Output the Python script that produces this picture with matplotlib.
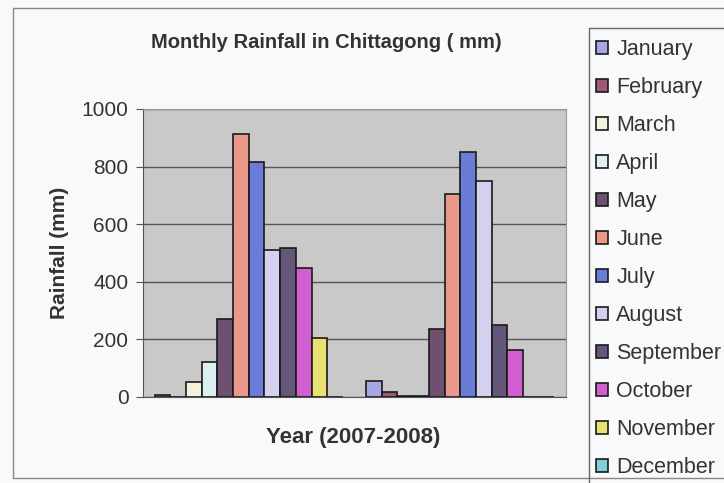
import numpy as np
import matplotlib
matplotlib.use("Agg")
import matplotlib.pyplot as plt
from matplotlib.patches import Rectangle

plt.rcParams['font.family'] = ['Liberation Sans', 'DejaVu Sans']

months = ["January", "February", "March", "April", "May", "June", "July",
          "August", "September", "October", "November", "December"]
years = ["2007", "2008"]
rain_2007 = [7, 0, 53, 123, 270, 913, 817, 509, 517, 447, 204, 0]
rain_2008 = [57, 19, 2, 2, 236, 704, 852, 751, 250, 163, 0, 0]
colors = ["#a9a6e8", "#a0587a", "#f4f2dc", "#dcf0f2", "#6e5070", "#e8998a",
          "#6a7bd8", "#d4d0f0", "#65577a", "#d060d0", "#e8e070", "#80d0d8"]

W, H = 724, 483
fig = plt.figure(figsize=(W / 100, H / 100), dpi=100)
fig.patch.set_facecolor("#f8f9fb")

def fx(px):
    return px / W

def fy(py):
    return 1 - py / H

# outer chart border and legend box
fig.patches.append(Rectangle((fx(13), fy(478)), fx(740) - fx(13), fy(8) - fy(478),
                             transform=fig.transFigure, fill=False,
                             edgecolor="#888888", linewidth=1.0, zorder=0))
fig.patches.append(Rectangle((fx(589), fy(495)), fx(760) - fx(589), fy(28) - fy(495),
                             transform=fig.transFigure, fill=False,
                             edgecolor="#666666", linewidth=1.0, zorder=0))

ax = fig.add_axes([fx(143), fy(397), fx(566) - fx(143), fy(109) - fy(397)])
ax.set_facecolor("#c9c9c9")

x = np.arange(len(years))
width = 0.0742
data = np.array([rain_2007, rain_2008])
for i, m in enumerate(months):
    edges = ["#1a1a1a" if v > 0 else "none" for v in data[:, i]]
    ax.bar(x + (i - 5.5) * width, data[:, i], width, color=colors[i],
           edgecolor=edges, linewidth=1.2, label=m, zorder=3)

ax.set_xlim(-0.5, 1.5)
ax.set_ylim(0, 1000)
ax.set_yticks(range(0, 1001, 200))
ax.set_xticks([])
ax.yaxis.grid(True, color="#555555", linewidth=1.0, zorder=1)
ax.tick_params(axis="y", labelsize=15, length=5, color="#555555", labelcolor="#333333", pad=5.5)
for s in ["top", "right"]:
    ax.spines[s].set_color("#999999")
for s in ["left", "bottom"]:
    ax.spines[s].set_color("#555555")

ax.set_ylabel("Rainfall (mm)", fontsize=15, fontweight="bold", color="#333333", labelpad=9)

fig.text(fx(326), fy(43), "Monthly Rainfall in Chittagong ( mm)", fontsize=14.5,
         fontweight="bold", color="#333333", ha="center", va="center")
fig.text(fx(353), fy(438), "Year (2007-2008)", fontsize=16,
         fontweight="bold", color="#333333", ha="center", va="center")

handles, labels = ax.get_legend_handles_labels()
for h in handles:
    for p in h.patches:
        p.set_edgecolor("#1a1a1a")
fig.legend(handles, labels, loc="upper left", bbox_to_anchor=(fx(596), fy(39)),
           frameon=False, fontsize=15.5, handlelength=0.55, handleheight=0.55,
           handletextpad=0.4, labelspacing=0.79, labelcolor="#333333",
           borderaxespad=0, borderpad=0)

fig.savefig("out.png", dpi=100, facecolor=fig.get_facecolor())
